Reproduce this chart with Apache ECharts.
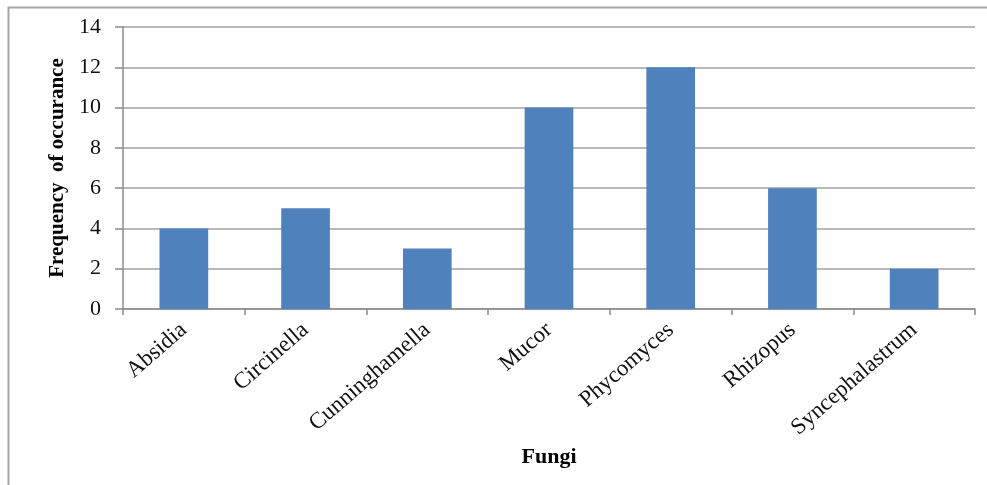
<!DOCTYPE html>
<html>
<head>
<meta charset="utf-8">
<script src="https://cdn.jsdelivr.net/npm/echarts@6/dist/echarts.min.js"></script>
<style>
  html, body { margin: 0; padding: 0; background: #fff; }
  #main { width: 987px; height: 485px; }
</style>
</head>
<body>
<div id="main"></div>
<script>
    // data
    var fungi = ['Absidia', 'Circinella', 'Cunninghamella', 'Mucor', 'Phycomyces', 'Rhizopus', 'Syncephalastrum'];
    var frequency = [4, 5, 3, 10, 12, 6, 2];
    var yTicks = [0, 2, 4, 6, 8, 10, 12, 14];

    var myChart = echarts.init(document.getElementById('main'));

    var serif = '"Liberation Serif", "DejaVu Serif", serif';

    option = {
        animation: false,
        backgroundColor: '#fff',
        color: ['#4F81BD'],
        graphic: [{
            type: 'rect',
            shape: { x: 8.5, y: 7.5, width: 1000, height: 500 },
            style: { fill: 'none', stroke: '#A6A6A6', lineWidth: 2 }
        }],
        grid: {
            left: 123,
            right: 12,
            top: 27,
            bottom: 176
        },
        xAxis: {
            type: 'category',
            data: fungi,
            name: 'Fungi',
            nameLocation: 'middle',
            nameGap: 136,
            nameTextStyle: { fontFamily: serif, fontSize: 22, fontWeight: 'bold', color: '#000' },
            axisLine: { lineStyle: { color: '#8C8C8C', width: 1.5 } },
            axisTick: { show: true, length: 6, alignWithLabel: false, lineStyle: { color: '#8C8C8C', width: 1.5 } },
            axisLabel: {
                rotate: 41,
                interval: 0,
                margin: 18,
                fontFamily: serif,
                fontSize: 23,
                color: '#111'
            }
        },
        yAxis: {
            type: 'value',
            min: yTicks[0],
            max: yTicks[yTicks.length - 1],
            interval: yTicks[1] - yTicks[0],
            name: 'Frequency  of occurance',
            nameLocation: 'middle',
            nameGap: 54,
            nameTextStyle: { fontFamily: serif, fontSize: 21, fontWeight: 'bold', color: '#000' },
            axisLine: { show: true, lineStyle: { color: '#8C8C8C', width: 1.5 } },
            axisTick: { show: true, length: 8, lineStyle: { color: '#8C8C8C', width: 1.5 } },
            axisLabel: { margin: 22, fontFamily: serif, fontSize: 22, color: '#111' },
            splitLine: { lineStyle: { color: '#A0A0A0', width: 1.5 } }
        },
        series: [{
            name: 'Frequency',
            type: 'bar',
            barWidth: '40%',
            data: frequency
        }]
    };

    myChart.setOption(option);
</script>
</body>
</html>
